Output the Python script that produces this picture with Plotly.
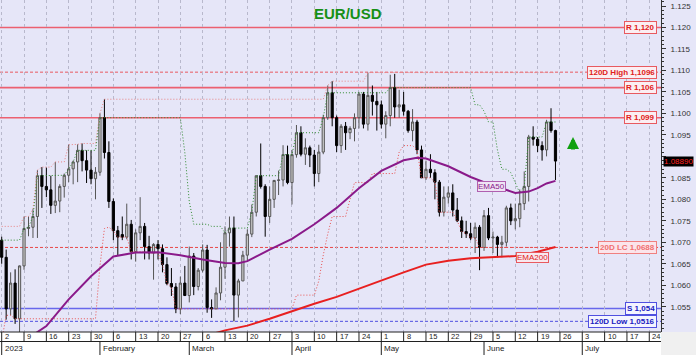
import numpy as np
import pandas as pd
import plotly.graph_objects as go

# ---------------- data ----------------
first_day = "2023-01-02"
last_day = "2023-06-23"
axis_last_tick = "2023-07-24"

opens = [1.0705, 1.0665, 1.0545, 1.0605, 1.0522,
         1.0645, 1.0732, 1.0735, 1.0760, 1.0855,
         1.0830, 1.0822, 1.0786, 1.0796, 1.0830,
         1.0856, 1.0871, 1.0887, 1.0914, 1.0890,
         1.0868, 1.0848, 1.0863, 1.0990, 1.0909,
         1.0795, 1.0727, 1.0718, 1.0712, 1.0742,
         1.0678, 1.0722, 1.0737, 1.0690, 1.0675,
         1.0695, 1.0685, 1.0648, 1.0604, 1.0596,
         1.0545, 1.0605, 1.0576, 1.0668, 1.0597,
         1.0635, 1.0682, 1.0548, 1.0545, 1.0582,
         1.0642, 1.0722, 1.0733, 1.0577, 1.0610,
         1.0670, 1.0719, 1.0770, 1.0855, 1.0830,
         1.0760, 1.0800, 1.0844, 1.0845, 1.0904,
         1.0839, 1.0904, 1.0955, 1.0905, 1.0920,
         1.0903, 1.0860, 1.0910, 1.0990, 1.1048,
         1.0990, 1.0925, 1.0970, 1.0955, 1.0965,
         1.0990, 1.1045, 1.0975, 1.1042, 1.1028,
         1.1020, 1.0975, 1.0995, 1.1060, 1.1015,
         1.1020, 1.1005, 1.0960, 1.0980, 1.0915,
         1.0850, 1.0870, 1.0862, 1.0840, 1.0770,
         1.0805, 1.0815, 1.0775, 1.0750, 1.0725,
         1.0720, 1.0710, 1.0735, 1.0688, 1.0762,
         1.0710, 1.0712, 1.0695, 1.0700, 1.0780,
         1.0750, 1.0755, 1.0790, 1.0830, 1.0945,
         1.0940, 1.0925, 1.0915, 1.0980, 1.0960]
highs = [1.0713, 1.0683, 1.0630, 1.0637, 1.0646,
         1.0760, 1.0760, 1.0777, 1.0868, 1.0875,
         1.0874, 1.0855, 1.0887, 1.0835, 1.0860,
         1.0927, 1.0890, 1.0928, 1.0930, 1.0914,
         1.0914, 1.0875, 1.1000, 1.1033, 1.0935,
         1.0802, 1.0738, 1.0760, 1.0790, 1.0752,
         1.0730, 1.0805, 1.0745, 1.0715, 1.0698,
         1.0705, 1.0695, 1.0665, 1.0640, 1.0605,
         1.0620, 1.0645, 1.0690, 1.0675, 1.0640,
         1.0695, 1.0694, 1.0567, 1.0595, 1.0700,
         1.0737, 1.0760, 1.0760, 1.0615, 1.0680,
         1.0730, 1.0788, 1.0855, 1.0930, 1.0835,
         1.0830, 1.0845, 1.0867, 1.0926, 1.0925,
         1.0915, 1.0973, 1.0970, 1.0942, 1.0925,
         1.0915, 1.0927, 1.0997, 1.1065, 1.1075,
         1.0995, 1.0975, 1.0980, 1.0970, 1.1000,
         1.1050, 1.1050, 1.1095, 1.1065, 1.1050,
         1.1030, 1.1005, 1.1090, 1.1092, 1.1055,
         1.1050, 1.1008, 1.1010, 1.0985, 1.0925,
         1.0890, 1.0905, 1.0870, 1.0845, 1.0830,
         1.0830, 1.0835, 1.0803, 1.0760, 1.0750,
         1.0745, 1.0746, 1.0740, 1.0775, 1.0780,
         1.0725, 1.0715, 1.0715, 1.0785, 1.0790,
         1.0790, 1.0823, 1.0865, 1.0950, 1.0970,
         1.0945, 1.0935, 1.0985, 1.1012, 1.0962]
lows = [1.0650, 1.0520, 1.0530, 1.0510, 1.0483,
        1.0636, 1.0714, 1.0710, 1.0710, 1.0780,
        1.0805, 1.0766, 1.0768, 1.0770, 1.0804,
        1.0840, 1.0835, 1.0840, 1.0865, 1.0838,
        1.0835, 1.0800, 1.0855, 1.0895, 1.0780,
        1.0705, 1.0669, 1.0705, 1.0707, 1.0660,
        1.0655, 1.0705, 1.0660, 1.0660, 1.0613,
        1.0660, 1.0630, 1.0600, 1.0575, 1.0535,
        1.0533, 1.0575, 1.0560, 1.0577, 1.0588,
        1.0630, 1.0536, 1.0524, 1.0545, 1.0565,
        1.0615, 1.0690, 1.0516, 1.0525, 1.0610,
        1.0655, 1.0712, 1.0760, 1.0825, 1.0713,
        1.0745, 1.0780, 1.0810, 1.0830, 1.0835,
        1.0788, 1.0897, 1.0900, 1.0880, 1.0875,
        1.0830, 1.0840, 1.0905, 1.0985, 1.0970,
        1.0910, 1.0908, 1.0915, 1.0940, 1.0935,
        1.0965, 1.0965, 1.0960, 1.0995, 1.0960,
        1.0965, 1.0942, 1.0970, 1.0990, 1.0990,
        1.0995, 1.0955, 1.0935, 1.0905, 1.0850,
        1.0845, 1.0850, 1.0800, 1.0760, 1.0760,
        1.0790, 1.0760, 1.0747, 1.0710, 1.0710,
        1.0705, 1.0675, 1.0635, 1.0680, 1.0705,
        1.0675, 1.0665, 1.0665, 1.0690, 1.0740,
        1.0730, 1.0735, 1.0775, 1.0795, 1.0925,
        1.0910, 1.0890, 1.0900, 1.0955, 1.0845]
closes = [1.0665, 1.0545, 1.0605, 1.0522, 1.0645,
          1.0732, 1.0735, 1.0760, 1.0855, 1.0830,
          1.0822, 1.0786, 1.0796, 1.0830, 1.0856,
          1.0871, 1.0887, 1.0914, 1.0890, 1.0868,
          1.0848, 1.0863, 1.0990, 1.0909, 1.0795,
          1.0727, 1.0712, 1.0712, 1.0742, 1.0678,
          1.0722, 1.0737, 1.0690, 1.0675, 1.0695,
          1.0685, 1.0648, 1.0604, 1.0596, 1.0545,
          1.0605, 1.0576, 1.0668, 1.0597, 1.0635,
          1.0682, 1.0548, 1.0545, 1.0582, 1.0642,
          1.0722, 1.0733, 1.0577, 1.0610, 1.0670,
          1.0719, 1.0770, 1.0855, 1.0830, 1.0760,
          1.0800, 1.0844, 1.0845, 1.0904, 1.0839,
          1.0904, 1.0955, 1.0905, 1.0920, 1.0903,
          1.0860, 1.0910, 1.0990, 1.1048, 1.0990,
          1.0925, 1.0970, 1.0955, 1.0965, 1.0990,
          1.1045, 1.0975, 1.1042, 1.1028, 1.1020,
          1.0975, 1.0995, 1.1060, 1.1015, 1.1020,
          1.1005, 1.0960, 1.0980, 1.0915, 1.0850,
          1.0870, 1.0862, 1.0840, 1.0770, 1.0805,
          1.0815, 1.0775, 1.0750, 1.0725, 1.0720,
          1.0710, 1.0735, 1.0688, 1.0762, 1.0710,
          1.0712, 1.0695, 1.0700, 1.0780, 1.0750,
          1.0755, 1.0790, 1.0830, 1.0945, 1.0940,
          1.0925, 1.0915, 1.0980, 1.0960, 1.0889]

# closes / high before the first visible day, only used to seed the channels
prior_closes = [1.0470, 1.0556, 1.0530, 1.0537, 1.0630, 1.0680, 1.0625, 1.0585, 1.0607,
                1.0620, 1.0605, 1.0595, 1.0615, 1.0640, 1.0638, 1.0610, 1.0660, 1.0705]
prior_highs = [1.0737]
channel_window = 19
long_window = 120

ema50_dates = ["2023-01-02", "2023-01-09", "2023-01-16", "2023-01-23", "2023-01-30",
               "2023-02-06", "2023-02-13", "2023-02-20", "2023-02-27", "2023-03-06",
               "2023-03-13", "2023-03-16", "2023-03-20", "2023-03-27", "2023-04-03",
               "2023-04-10", "2023-04-17", "2023-04-24", "2023-05-01", "2023-05-08",
               "2023-05-11", "2023-05-15", "2023-05-22", "2023-05-29", "2023-06-05",
               "2023-06-12", "2023-06-15", "2023-06-19", "2023-06-21", "2023-06-23"]
ema50 = [1.0440, 1.0470, 1.0505, 1.0567, 1.0621, 1.0667, 1.0676, 1.0677, 1.0670, 1.0660,
         1.0652, 1.0651, 1.0656, 1.0683, 1.0708, 1.0742, 1.0780, 1.0826, 1.0866, 1.0891,
         1.0897, 1.0895, 1.0877, 1.0852, 1.0832, 1.0815, 1.0818, 1.0826, 1.0837, 1.0843]

ema200_dates = ["2023-01-02", "2023-01-16", "2023-01-30", "2023-02-13", "2023-02-27",
                "2023-03-06", "2023-03-13", "2023-03-20", "2023-03-27", "2023-04-03",
                "2023-04-10", "2023-04-17", "2023-04-24", "2023-05-01", "2023-05-08",
                "2023-05-15", "2023-05-22", "2023-05-29", "2023-06-05", "2023-06-12",
                "2023-06-19", "2023-06-23"]
ema200 = [1.0370, 1.0395, 1.0420, 1.0443, 1.0467, 1.0480, 1.0495, 1.0506, 1.0522, 1.0540,
          1.0557, 1.0573, 1.0592, 1.0612, 1.0630, 1.0648, 1.0657, 1.0663, 1.0666, 1.0668,
          1.0678, 1.0689]

level_values = [1.120, 1.1096, 1.106, 1.099, 1.0688, 1.0546, 1.0516]
level_labels = ["R 1,120", "120D High 1,1096", "R 1,106", "R 1,099",
                "20D LC 1,0688", "S 1,054", "120D Low 1,0516"]
level_kinds = ["R", "H", "R", "R", "LC", "S", "L"]

month_names = ["2023", "February", "March", "April", "May", "June", "July"]
month_starts = ["2023-01-02", "2023-02-01", "2023-03-01", "2023-04-03",
                "2023-05-01", "2023-06-01", "2023-07-03"]

y_ticks = [1.055, 1.060, 1.065, 1.070, 1.075, 1.080, 1.085, 1.090, 1.095,
           1.100, 1.105, 1.110, 1.115, 1.120, 1.125]

title_text = "EUR/USD"

# ---------------- derived ----------------
d0 = np.datetime64(first_day)


def pos(d):
    return int(np.busday_count(d0, np.datetime64(pd.Timestamp(d).date())))


dates = pd.bdate_range(first_day, last_day)
x = np.array([pos(d) for d in dates])

c_all = pd.Series(prior_closes + closes)
hc20 = c_all.rolling(channel_window, min_periods=1).max().values[len(prior_closes):]
lc20 = c_all.rolling(channel_window, min_periods=1).min().values[len(prior_closes):]
h_all = pd.Series(prior_highs + highs)
hh120 = h_all.rolling(long_window, min_periods=1).max().values[len(prior_highs):]

week_ticks = pd.date_range(first_day, axis_last_tick, freq="W-MON")
tick_pos = [pos(d) for d in week_ticks]
month_pos = [pos(d) for d in month_starts]

# ---------------- layout constants ----------------
W, H = 696, 355
ML, MR, MT, MB = 0, 35, 0, 23
PW, PH = W - ML - MR, H - MT - MB
row1 = 9.5 / PH
row2 = MB / PH
BG = "#E6E6F8"
FONT = "Liberation Sans, Arial, sans-serif"
y_per_px = 1 / 4296.0

fig = go.Figure()

fig.add_trace(go.Candlestick(
    x=x, open=opens, high=highs, low=lows, close=closes,
    increasing=dict(line=dict(color="#555555", width=1), fillcolor="#d2d2d2"),
    decreasing=dict(line=dict(color="#000000", width=1), fillcolor="#000000"),
    whiskerwidth=0, showlegend=False, hoverinfo="skip"))

fig.add_trace(go.Scatter(x=x, y=hh120, mode="lines", line=dict(color="#e88080", width=1, dash="1px,2px"),
                         showlegend=False, hoverinfo="skip"))
fig.add_trace(go.Scatter(x=x, y=hc20, mode="lines", line=dict(color="#2e8b2e", width=1, dash="1px,2px"),
                         showlegend=False, hoverinfo="skip"))
fig.add_trace(go.Scatter(x=x, y=lc20, mode="lines", line=dict(color="#e85050", width=1, dash="1px,2px"),
                         showlegend=False, hoverinfo="skip"))

fig.add_trace(go.Scatter(x=[pos(d) for d in ema200_dates], y=ema200, mode="lines",
                         line=dict(color="#e82020", width=2), showlegend=False, hoverinfo="skip"))
fig.add_trace(go.Scatter(x=[pos(d) for d in ema50_dates], y=ema50, mode="lines",
                         line=dict(color="#8a1a8a", width=2), showlegend=False, hoverinfo="skip"))

shapes = []
annotations = []

style = {
    "R": dict(line="#ec6070", dash="solid", width=1.6, text="#e02020", border="#e85a60", bg="#fbeef2"),
    "H": dict(line="#e85a60", dash="3px,2px", width=1, text="#e02020", border="#e85a60", bg="#fbeef2"),
    "LC": dict(line="#e84848", dash="3px,2px", width=1, text="#f07070", border="#f08080", bg="#fbe4ea"),
    "S": dict(line="#6868ec", dash="solid", width=1.6, text="#2020c0", border="#5050e0", bg="#f4f4ff"),
    "L": dict(line="#5050e0", dash="3px,2px", width=1, text="#2020c0", border="#5050e0", bg="#f4f4ff"),
}
for v, lab, k in zip(level_values, level_labels, level_kinds):
    s = style[k]
    shapes.append(dict(type="line", xref="paper", yref="y", x0=0, x1=1, y0=v, y1=v,
                       line=dict(color=s["line"], width=s["width"], dash=s["dash"]), layer="below"))
    annotations.append(dict(xref="paper", yref="y", x=657 / PW, y=v, xanchor="right", yanchor="middle",
                            text="<b>%s</b>" % lab, showarrow=False,
                            font=dict(family=FONT, size=8, color=s["text"]),
                            bgcolor=s["bg"], bordercolor=s["border"], borderwidth=1, borderpad=1))

# EMA labels
annotations.append(dict(xref="x", yref="y", x=pos("2023-06-05") - 0.3, y=1.0829, text="EMA50",
                        showarrow=False, font=dict(family=FONT, size=8, color="#8a1a8a"),
                        bgcolor="#efe4f4", bordercolor="#b060b0", borderwidth=1, borderpad=0))
annotations.append(dict(xref="x", yref="y", x=pos("2023-06-16") - 0.1, y=1.0665, text="EMA200",
                        showarrow=False, font=dict(family=FONT, size=8, color="#e02020"),
                        bgcolor="#f8e8ee", bordercolor="#e85a60", borderwidth=1, borderpad=0))

# title
annotations.append(dict(xref="paper", yref="paper", x=348 / PW, y=1 - 14 / PH, text="<b>%s</b>" % title_text,
                        showarrow=False, font=dict(family=FONT, size=15, color="#169016"),
                        xanchor="center", yanchor="middle"))

# last price tag (covers the nearby axis label, as in the source chart)
annotations.append(dict(xref="paper", yref="y", x=1, y=closes[-1], xanchor="left", xshift=2,
                        text="%.5f" % closes[-1], showarrow=False,
                        font=dict(family=FONT, size=8, color="#ff2020"), bgcolor="#000000", borderpad=0))

# up-signal arrow
annotations.append(dict(xref="paper", yref="y", x=573 / PW, y=1.0945, ax=0, ay=14, text="",
                        showarrow=True, arrowhead=2, arrowsize=0.6, arrowwidth=4, arrowcolor="#10a010"))

# bottom date strip
shapes.append(dict(type="rect", xref="paper", yref="paper", x0=0, x1=1, y0=-row2, y1=0,
                   fillcolor="#ffffff", line=dict(width=0), layer="above"))
shapes.append(dict(type="rect", xref="paper", yref="paper", x0=1, x1=W / PW, y0=-row2, y1=0,
                   fillcolor="#f0f0f0", line=dict(width=0), layer="above"))
shapes.append(dict(type="line", xref="paper", yref="paper", x0=0, x1=1, y0=0, y1=0,
                   line=dict(color="#202020", width=1)))
shapes.append(dict(type="line", xref="paper", yref="paper", x0=0, x1=1, y0=-row1, y1=-row1,
                   line=dict(color="#202020", width=1)))
for d, p in zip(week_ticks, tick_pos):
    shapes.append(dict(type="line", xref="x", yref="paper", x0=p, x1=p, y0=0, y1=-row1,
                       line=dict(color="#202020", width=1)))
    annotations.append(dict(xref="x", yref="paper", x=p, y=-row1 / 2, xanchor="left", yanchor="middle",
                            xshift=1, text=str(d.day), showarrow=False,
                            font=dict(family=FONT, size=7.5, color="#222222")))
for name, p in zip(month_names, month_pos):
    shapes.append(dict(type="line", xref="x", yref="paper", x0=p, x1=p, y0=-row1, y1=-row2,
                       line=dict(color="#202020", width=1)))
    annotations.append(dict(xref="x", yref="paper", x=p, y=-(row1 + row2) / 2, xanchor="left",
                            yanchor="middle", xshift=1, text=name, showarrow=False,
                            font=dict(family=FONT, size=8, color="#222222")))

px_per_day = 4.466
x_left = -1.7 / px_per_day
x_right = x_left + PW / px_per_day
y_top = 1.125 + 6 * y_per_px
y_bot = y_top - PH * y_per_px

# axis labels hidden where the last-price tag sits on top of them
tick_text = ["" if abs(t - closes[-1]) < 6 * y_per_px else "%.3f" % t for t in y_ticks]

fig.update_layout(
    width=W, height=H, margin=dict(l=ML, r=MR, t=MT, b=MB),
    paper_bgcolor=BG, plot_bgcolor=BG, showlegend=False,
    font=dict(family=FONT, size=8, color="#333333"),
    shapes=shapes, annotations=annotations,
    xaxis=dict(range=[x_left, x_right], tickvals=tick_pos, showticklabels=False, ticks="",
               showgrid=True, gridcolor="#b8b8cc", griddash="3px,3px", gridwidth=1,
               zeroline=False, showline=False, rangeslider=dict(visible=False), fixedrange=True),
    yaxis=dict(side="right", range=[y_bot, y_top], tickvals=y_ticks,
               ticktext=tick_text, ticks="outside", ticklen=4, tickcolor="#333333",
               minor=dict(tickmode="linear", tick0=1.05, dtick=0.001, ticks="outside", ticklen=2,
                          tickcolor="#333333", showgrid=False),
               showline=True, linecolor="#333333", linewidth=1, showgrid=False, zeroline=False,
               tickfont=dict(family=FONT, size=8, color="#333333"), ticklabelstandoff=3, fixedrange=True),
)

fig.write_html("out.html")
